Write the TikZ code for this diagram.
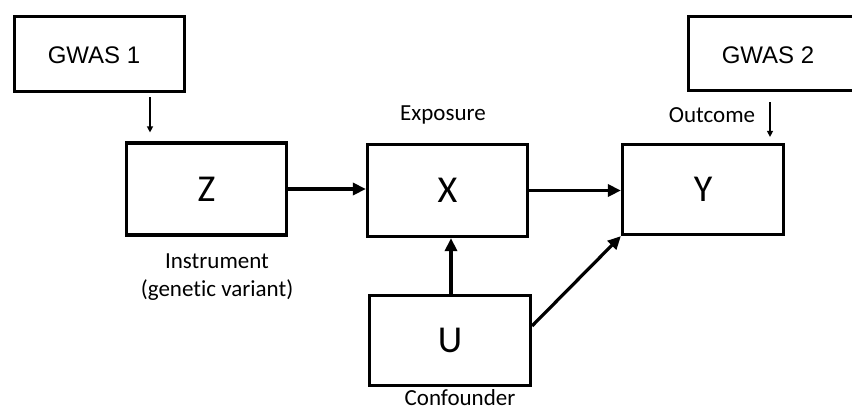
\documentclass[tikz,border=0pt]{standalone}
\usepackage{fontspec}
\setmainfont{Carlito}[Ligatures=NoCommon]
\newfontfamily\arialf{Liberation Sans}
\usetikzlibrary{arrows.meta}
\begin{document}
\begin{tikzpicture}[x=1bp,y=-1bp,
  box/.style={draw, line width=3.2bp, rectangle, inner sep=0pt, minimum width=160bp, minimum height=92bp,
    font=\fontsize{38bp}{44bp}\selectfont},
  gwasbox/.style={draw, line width=3.2bp, rectangle, inner sep=0pt, minimum width=170bp, minimum height=75bp},
  gwastext/.style={font=\arialf\fontsize{24bp}{28bp}\selectfont, inner sep=0pt},
  lab/.style={font=\fontsize{23bp}{28bp}\selectfont, inner sep=0pt, align=center},
  thick arrow/.style={line width=3.2bp, -{Triangle[length=13bp,width=12bp]}},
  thin arrow/.style={line width=1.3bp, -{Triangle[length=6bp,width=6bp]}}]
\useasboundingbox (0,0) rectangle (852,410);
% GWAS boxes
\node[gwasbox] (G1) at (99.5,54) {};
\node[gwastext] (G1t) at (94,55) {GWAS 1};
\begin{scope}
\clip (0,0) rectangle (852,410);
\draw[line width=3.2bp] (880,16.5) -- (688.5,16.5) -- (688.5,90.5) -- (880,90.5);
\end{scope}
\coordinate (G2) at (770,92);
\node[gwastext] (G2t) at (768,55) {GWAS 2};
% main boxes
\node[box] (Z) at (206.5,189) {Z};
\node[box] (X) at (447.5,190.5) {X};
\node[box, minimum width=161bp, minimum height=90bp] (Y) at (703,189.5) {Y};
\node[box, minimum width=161bp, minimum height=90bp] (U) at (450,340.5) {U};
% labels
\node[lab] (exp) at (443,115) {Exposure};
\node[lab] (out) at (712,115) {Outcome};
\node[lab] (ins) at (217,277) {Instrument\\(genetic variant)};
\node[lab] (conf) at (460,397.5) {Confounder};
% arrows
\coordinate (a1) at (150,0);
\draw[thin arrow, shorten <=4bp, shorten >=9bp] (G1.south -| a1) -- (Z.north -| a1);
\coordinate (a2) at (770,0);
\draw[thin arrow, shorten <=10bp, shorten >=6bp] (G2 -| a2) -- (Y.north -| a2);
\draw[thick arrow] (Z.east) -- (Z.east -| X.west);
\draw[thick arrow] (X.east) -- (X.east -| Y.west);
\coordinate (a3) at (451,0);
\draw[thick arrow] (U.north -| a3) -- (X.south -| a3);
\draw[thick arrow] ([yshift=-32bp]U.north east) -- (Y.south west);
\end{tikzpicture}
\end{document}
